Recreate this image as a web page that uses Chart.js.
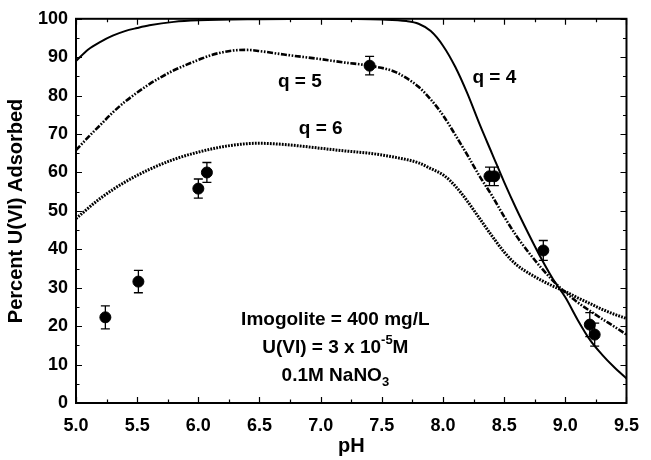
<!DOCTYPE html>
<html>
<head>
<meta charset="utf-8">
<script src="https://cdn.jsdelivr.net/npm/chart.js@4.4.1/dist/chart.umd.min.js"></script>
<style>
  html, body { margin: 0; padding: 0; background: #fff; }
</style>
</head>
<body>
<canvas id="chart" width="651" height="460"></canvas>
<script>
// Courbes modèles (q = 4, 5, 6)
const q4PH = [5.0, 5.1, 5.2, 5.3, 5.4, 5.5, 5.6, 5.8, 6.0, 6.5, 7.0, 7.5, 7.7, 7.8, 7.9, 8.0, 8.1, 8.2, 8.3, 8.4, 8.5, 8.6, 8.7, 8.8, 8.9, 9.0, 9.1, 9.2, 9.3, 9.4, 9.5];
const q4U  = [89, 92, 94, 95.6, 96.8, 97.6, 98.3, 99.2, 99.6, 99.9, 100, 99.8, 99.4, 98.7, 96.8, 93, 87.5, 80.5, 72.5, 65, 57.5, 50.5, 44, 37.8, 32.2, 27.5, 21.7, 16.5, 12.6, 9.3, 6.4];

const q5PH = [5.0, 5.1, 5.2, 5.3, 5.4, 5.5, 5.6, 5.7, 5.8, 5.9, 6.0, 6.1, 6.2, 6.3, 6.4, 6.5, 6.7, 7.0, 7.2, 7.4, 7.6, 7.7, 7.8, 7.9, 8.0, 8.1, 8.2, 8.3, 8.4, 8.5, 8.6, 8.7, 8.8, 8.9, 9.0, 9.1, 9.2, 9.3, 9.4, 9.5];
const q5U  = [65.8, 69.2, 72.4, 75.6, 78.4, 80.8, 83.0, 84.9, 86.6, 88.0, 89.3, 90.5, 91.3, 91.8, 91.9, 91.6, 90.7, 89.5, 88.6, 87.8, 86.3, 84.6, 82.3, 79, 74.9, 69.8, 64.5, 59.0, 54.0, 48.5, 43.5, 39.2, 35.3, 31.8, 28.8, 26.2, 24.0, 21.9, 19.9, 17.8];

const q6PH = [5.0, 5.2, 5.4, 5.6, 5.8, 6.0, 6.2, 6.4, 6.5, 6.6, 6.8, 7.0, 7.2, 7.4, 7.6, 7.8, 7.9, 8.0, 8.1, 8.2, 8.3, 8.4, 8.5, 8.6, 8.7, 8.8, 8.9, 9.0, 9.1, 9.2, 9.3, 9.4, 9.5];
const q6U  = [48.0, 53.3, 57.5, 60.8, 63.4, 65.3, 66.7, 67.5, 67.6, 67.5, 67.0, 66.3, 65.6, 65.0, 64.0, 62.5, 61.0, 59.4, 56.5, 52.5, 48.0, 43.5, 39.3, 36.0, 33.8, 32.0, 30.4, 29.0, 27.4, 25.9, 24.4, 23.1, 22.0];

// Mesures avec barres d'erreur
const obsPH  = [5.24, 5.51, 6.0, 6.07, 7.40, 8.38, 8.42, 8.82, 9.20, 9.24];
const obsU   = [22.3, 31.6, 55.8, 60.0, 87.8, 59.0, 59.0, 39.7, 20.4, 17.8];
const obsErr = [3.0, 2.9, 2.5, 2.6, 2.4, 2.4, 2.4, 2.6, 3.1, 3.0];

const xTicks = [5.0, 5.5, 6.0, 6.5, 7.0, 7.5, 8.0, 8.5, 9.0, 9.5];
const yTicks = [0, 10, 20, 30, 40, 50, 60, 70, 80, 90, 100];

const FONT = 'Liberation Sans, Arial, Helvetica, sans-serif';

function pts(xs, ys) {
  return xs.map((x, i) => ({ x, y: ys[i] }));
}

// Cadre + graduations intérieures sur les quatre côtés
const frame = {
  id: 'frame',
  afterDraw(chart) {
    const { ctx, chartArea: a, scales: { x, y } } = chart;
    ctx.save();
    ctx.strokeStyle = '#000';
    ctx.lineWidth = 2;
    ctx.strokeRect(a.left, a.top, a.right - a.left, a.bottom - a.top);
    ctx.lineWidth = 1.2;
    ctx.beginPath();
    for (let v = 5; v <= 9.5001; v += 0.25) {
      const px = Math.round(x.getPixelForValue(v)) + 0.5;
      const len = Math.abs(v * 2 - Math.round(v * 2)) < 1e-6 ? 6 : 3.5;
      ctx.moveTo(px, a.bottom); ctx.lineTo(px, a.bottom - len);
      ctx.moveTo(px, a.top); ctx.lineTo(px, a.top + len);
    }
    for (let v = 0; v <= 100; v += 5) {
      const py = Math.round(y.getPixelForValue(v)) + 0.5;
      const len = v % 10 === 0 ? 6 : 3.5;
      ctx.moveTo(a.left, py); ctx.lineTo(a.left + len, py);
      ctx.moveTo(a.right, py); ctx.lineTo(a.right - len, py);
    }
    ctx.stroke();
    ctx.restore();
  }
};

const errorBars = {
  id: 'errorBars',
  afterDatasetsDraw(chart) {
    const { ctx, scales: { x, y } } = chart;
    ctx.save();
    ctx.strokeStyle = '#000';
    ctx.lineWidth = 1.3;
    ctx.beginPath();
    obsPH.forEach((p, i) => {
      const px = x.getPixelForValue(p);
      const top = y.getPixelForValue(obsU[i] + obsErr[i]);
      const bot = y.getPixelForValue(obsU[i] - obsErr[i]);
      ctx.moveTo(px, top); ctx.lineTo(px, bot);
      ctx.moveTo(px - 4.5, top); ctx.lineTo(px + 4.5, top);
      ctx.moveTo(px - 4.5, bot); ctx.lineTo(px + 4.5, bot);
    });
    ctx.stroke();
    ctx.restore();
  }
};

// Étiquettes q = … et conditions expérimentales
const labels = {
  id: 'labels',
  afterDraw(chart) {
    const { ctx, scales: { x, y } } = chart;
    ctx.save();
    ctx.fillStyle = '#000';
    ctx.textAlign = 'center';
    ctx.textBaseline = 'middle';
    ctx.font = `bold 19px ${FONT}`;
    ctx.fillText('q = 4', x.getPixelForValue(8.42), y.getPixelForValue(84.7));
    ctx.fillText('q = 5', x.getPixelForValue(6.83), y.getPixelForValue(83.7));
    ctx.fillText('q = 6', x.getPixelForValue(7.00), y.getPixelForValue(71.5));

    const cx = x.getPixelForValue(7.12);
    ctx.fillText('Imogolite = 400 mg/L', cx, y.getPixelForValue(21.6));

    // U(VI) = 3 x 10^-5 M
    const big = `bold 19px ${FONT}`, small = `bold 13px ${FONT}`;
    let yy = y.getPixelForValue(14.5);
    ctx.textAlign = 'left';
    ctx.font = big; const w1 = ctx.measureText('U(VI) = 3 x 10').width;
    ctx.font = small; const w2 = ctx.measureText('-5').width;
    ctx.font = big; const w3 = ctx.measureText('M').width;
    let sx = cx - (w1 + w2 + w3) / 2;
    ctx.fillText('U(VI) = 3 x 10', sx, yy);
    ctx.font = small; ctx.fillText('-5', sx + w1, yy - 7);
    ctx.font = big; ctx.fillText('M', sx + w1 + w2, yy);

    // 0.1M NaNO3
    yy = y.getPixelForValue(7.2);
    const v1 = ctx.measureText('0.1M NaNO').width;
    ctx.font = small; const v2 = ctx.measureText('3').width;
    sx = cx - (v1 + v2) / 2;
    ctx.font = big; ctx.fillText('0.1M NaNO', sx, yy);
    ctx.font = small; ctx.fillText('3', sx + v1, yy + 7);
    ctx.restore();
  }
};

new Chart(document.getElementById('chart'), {
  type: 'scatter',
  data: {
    datasets: [
      { type: 'line', data: pts(q4PH, q4U), borderColor: '#000', borderWidth: 2, pointRadius: 0, cubicInterpolationMode: 'monotone', fill: false },
      { type: 'line', data: pts(q5PH, q5U), borderColor: '#000', borderWidth: 2.6, borderDash: [6, 1.6, 1.6, 1.6, 1.6, 1.6], pointRadius: 0, cubicInterpolationMode: 'monotone', fill: false },
      { type: 'line', data: pts(q6PH, q6U), borderColor: '#000', borderWidth: 3, borderDash: [1.8, 1.2], pointRadius: 0, cubicInterpolationMode: 'monotone', fill: false },
      { data: pts(obsPH, obsU), backgroundColor: '#000', borderColor: '#000', pointRadius: 5.5, pointHoverRadius: 5.5 },
    ],
  },
  options: {
    responsive: false,
    animation: false,
    devicePixelRatio: 1,
    layout: { padding: { top: 16, right: 14, left: 0, bottom: 0 } },
    plugins: { legend: { display: false }, tooltip: { enabled: false } },
    scales: {
      x: {
        type: 'linear', min: 5, max: 9.5,
        afterBuildTicks: s => { s.ticks = xTicks.map(v => ({ value: v })); },
        afterFit: s => { s.height = 57; },
        grid: { display: false, drawTicks: false },
        border: { display: false },
        ticks: { color: '#000', padding: 12, font: { family: FONT, size: 18, weight: 'bold' }, callback: v => v.toFixed(1), maxRotation: 0 },
        title: { display: true, text: 'pH', color: '#000', padding: { top: 0, bottom: 2 }, font: { family: FONT, size: 20, weight: 'bold' } },
      },
      y: {
        min: 0, max: 100,
        afterBuildTicks: s => { s.ticks = yTicks.map(v => ({ value: v })); },
        afterFit: s => { s.width = 76; },
        grid: { display: false, drawTicks: false },
        border: { display: false },
        ticks: { color: '#000', padding: 8, font: { family: FONT, size: 18, weight: 'bold' } },
        title: { display: true, text: 'Percent U(VI) Adsorbed', color: '#000', padding: { top: 4, bottom: 0 }, font: { family: FONT, size: 20, weight: 'bold' } },
      },
    },
  },
  plugins: [frame, errorBars, labels],
});
</script>
</body>
</html>
